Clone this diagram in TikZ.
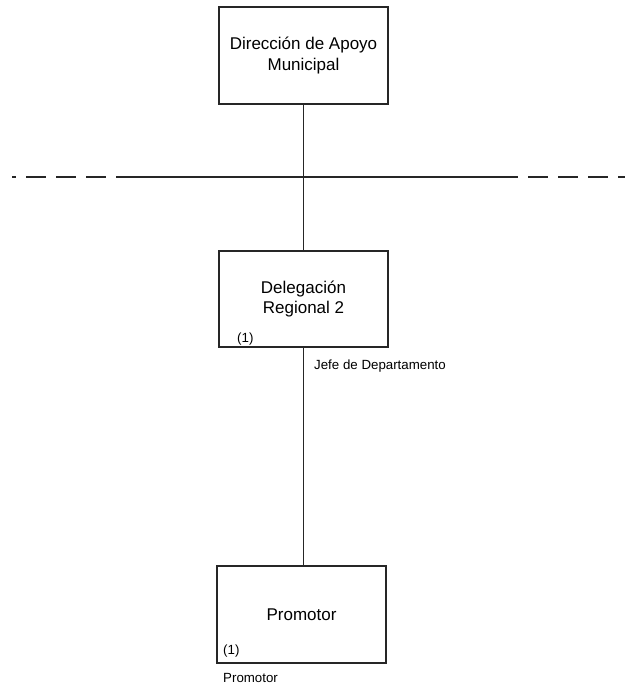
\documentclass[tikz,border=0pt]{standalone}
\usepackage{fontspec}
\setmainfont{Liberation Sans}
\begin{document}
\begin{tikzpicture}[x=1pt,y=-1pt,
  orgbox/.style={draw=black!85, line width=1.1pt, minimum width=169pt, inner sep=0pt, align=center,
    font=\fontsize{17}{20.5}\selectfont},
  small/.style={inner sep=0pt, font=\fontsize{13.3}{15}\selectfont},
  conn/.style={draw=black!85, line width=1.1pt}]
\useasboundingbox (0,0) rectangle (624,688);
\node[orgbox, minimum height=97pt] (dir) at (303.5,55.5) {Dirección de Apoyo\\Municipal};
\node[orgbox, minimum height=96pt] (del) at (303.5,299) {Delegación\\Regional 2};
\node[orgbox, minimum height=97pt] (pro) at (301.5,614.5) {Promotor};
\node[small, anchor=west] (n1) at (237,339) {(1)};
\node[small, anchor=west] (n2) at (223,651) {(1)};
\node[small, anchor=west] (jefe) at (314,366) {Jefe de Departamento};
\node[small, anchor=west] (prol) at (223,678) {Promotor};
\draw[conn] (dir.south) -- (del.north);
\draw[conn] (del.south) -- (del.south |- pro.north);
% horizontal line
\coordinate (l0) at (12,177);
\coordinate (l1) at (106,177);
\coordinate (s0) at (116,177);
\coordinate (s1) at (518,177);
\coordinate (r0) at (528,177);
\coordinate (r1) at (630,177);
\draw[conn, dash pattern=on 20pt off 10pt, dash phase=16pt] (l0) -- (l1);
\draw[conn] (s0) -- (s1);
\draw[conn, dash pattern=on 20pt off 10pt] (r0) -- (r1);
\end{tikzpicture}
\end{document}
